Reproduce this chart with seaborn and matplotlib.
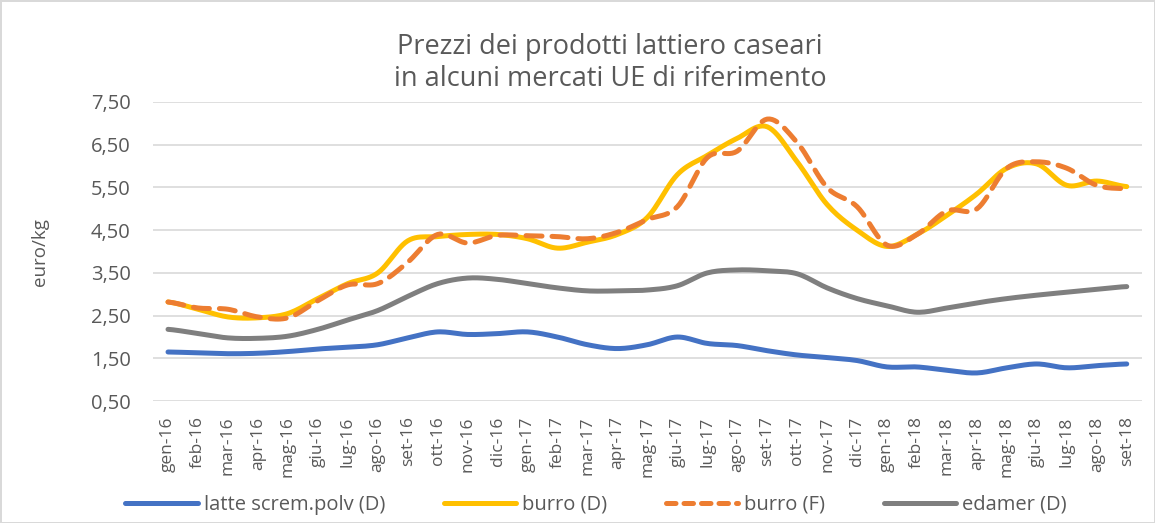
import numpy as np
import pandas as pd
import matplotlib
matplotlib.use("Agg")
import matplotlib.pyplot as plt
import seaborn as sns

months = ["gen-16","feb-16","mar-16","apr-16","mag-16","giu-16","lug-16","ago-16","set-16","ott-16","nov-16","dic-16",
          "gen-17","feb-17","mar-17","apr-17","mag-17","giu-17","lug-17","ago-17","set-17","ott-17","nov-17","dic-17",
          "gen-18","feb-18","mar-18","apr-18","mag-18","giu-18","lug-18","ago-18","set-18"]

latte = [1.65,1.63,1.61,1.62,1.66,1.72,1.76,1.82,1.98,2.12,2.06,2.08,
         2.12,2.00,1.82,1.73,1.82,2.00,1.85,1.80,1.68,1.58,1.52,1.45,
         1.30,1.30,1.22,1.16,1.28,1.37,1.28,1.33,1.37]
burro_d = [2.82,2.65,2.47,2.45,2.55,2.90,3.25,3.50,4.25,4.35,4.40,4.40,
           4.30,4.08,4.22,4.40,4.80,5.80,6.25,6.65,6.92,6.10,5.10,4.50,
           4.12,4.40,4.85,5.35,5.95,6.05,5.55,5.65,5.52]
burro_f = [2.82,2.68,2.65,2.47,2.45,2.85,3.22,3.25,3.75,4.40,4.20,4.38,
           4.37,4.35,4.30,4.45,4.75,5.05,6.20,6.35,7.10,6.55,5.50,5.05,
           4.15,4.40,4.95,5.00,5.95,6.10,5.95,5.55,5.47]
edamer = [2.18,2.08,1.98,1.97,2.02,2.18,2.40,2.62,2.95,3.25,3.38,3.35,
          3.25,3.15,3.08,3.08,3.10,3.20,3.50,3.57,3.55,3.48,3.15,2.90,
          2.73,2.58,2.68,2.80,2.90,2.98,3.05,3.12,3.18]

series_names = ["latte screm.polv (D)", "burro (D)", "burro (F)", "edamer (D)"]
series_vals = [latte, burro_d, burro_f, edamer]
colors = ["#4472C4", "#FFC000", "#ED7D31", "#7F7F7F"]

def smooth(y, n=12):
    # Catmull-Rom style rendering (like Excel "smoothed line")
    y = np.asarray(y, float)
    p = np.concatenate([[y[0]], y, [y[-1]]])
    xs, ys = [], []
    for i in range(len(y) - 1):
        p0, p1, p2, p3 = p[i], p[i+1], p[i+2], p[i+3]
        t = np.linspace(0, 1, n, endpoint=False)
        yy = 0.5*((2*p1) + (-p0+p2)*t + (2*p0-5*p1+4*p2-p3)*t**2 + (-p0+3*p1-3*p2+p3)*t**3)
        xs.append(i + t); ys.append(yy)
    xs.append([len(y)-1]); ys.append([y[-1]])
    return np.concatenate(xs), np.concatenate(ys)

sns.set_theme(style="white")
plt.rcParams['font.family'] = ['Open Sans', 'DejaVu Sans']

fig = plt.figure(figsize=(11.55, 5.23), dpi=100)
fig.patch.set_facecolor("white")
ax = fig.add_axes([0.1325, 0.233, 0.856, 0.572])

rows = []
for name, vals in zip(series_names, series_vals):
    sx, sy = smooth(vals)
    for a, b in zip(sx, sy):
        rows.append({"x": a, "y": b, "serie": name})
df = pd.DataFrame(rows)

for name, col in zip(series_names, colors):
    sub = df[df["serie"] == name]
    if name == "burro (F)":
        sns.lineplot(data=sub, x="x", y="y", ax=ax, color=col, lw=3.6, label=name,
                     dashes=False, sort=False)
        ax.lines[-1].set_dashes([3.2, 2.0])
        ax.lines[-1].set_dash_capstyle("round")
    else:
        sns.lineplot(data=sub, x="x", y="y", ax=ax, color=col, lw=3.6, label=name, sort=False)
        ax.lines[-1].set_solid_capstyle("round")

ax.set_xlim(-0.5, len(months) - 0.5)
ax.set_ylim(0.5, 7.5)
yt = [0.5, 1.5, 2.5, 3.5, 4.5, 5.5, 6.5, 7.5]
ax.set_yticks(yt)
ax.set_yticklabels([f"{v:.2f}".replace(".", ",") for v in yt], fontsize=14.5, color="#595959")
ax.set_xticks(range(len(months)))
ax.set_xticklabels(months, rotation=90, fontsize=12.5, color="#595959")
ax.tick_params(axis="y", length=0, pad=16)
ax.tick_params(axis="x", length=0, pad=11)
ax.grid(axis="y", color="#D9D9D9", lw=1.2)
ax.grid(axis="x", visible=False)
for s in ax.spines.values():
    s.set_visible(False)
ax.set_xlabel("")
ax.set_ylabel("euro/kg", fontsize=13.5, color="#595959", labelpad=30)

fig.text(0.528, 0.880, "Prezzi dei prodotti lattiero caseari\nin alcuni mercati UE di riferimento",
         ha="center", va="center", fontsize=19.5, color="#595959", linespacing=1.2)

handles, labels = ax.get_legend_handles_labels()
ax.get_legend().remove()
leg = fig.legend(handles, labels, loc="center", bbox_to_anchor=(0.516, 0.035), ncol=4,
                 frameon=False, fontsize=14.5, handlelength=3.6, columnspacing=2.9, handletextpad=0.3)
for t in leg.get_texts():
    t.set_color("#595959")
for h in leg.legend_handles:
    h.set_solid_capstyle("round")
leg.legend_handles[2].set_dashes([1.9, 1.6])
leg.legend_handles[2].set_dash_capstyle("round")

fig.patch.set_edgecolor("#D9D9D9")
fig.patch.set_linewidth(2)
fig.savefig("out.png", dpi=100, facecolor="white", edgecolor=fig.get_edgecolor())
